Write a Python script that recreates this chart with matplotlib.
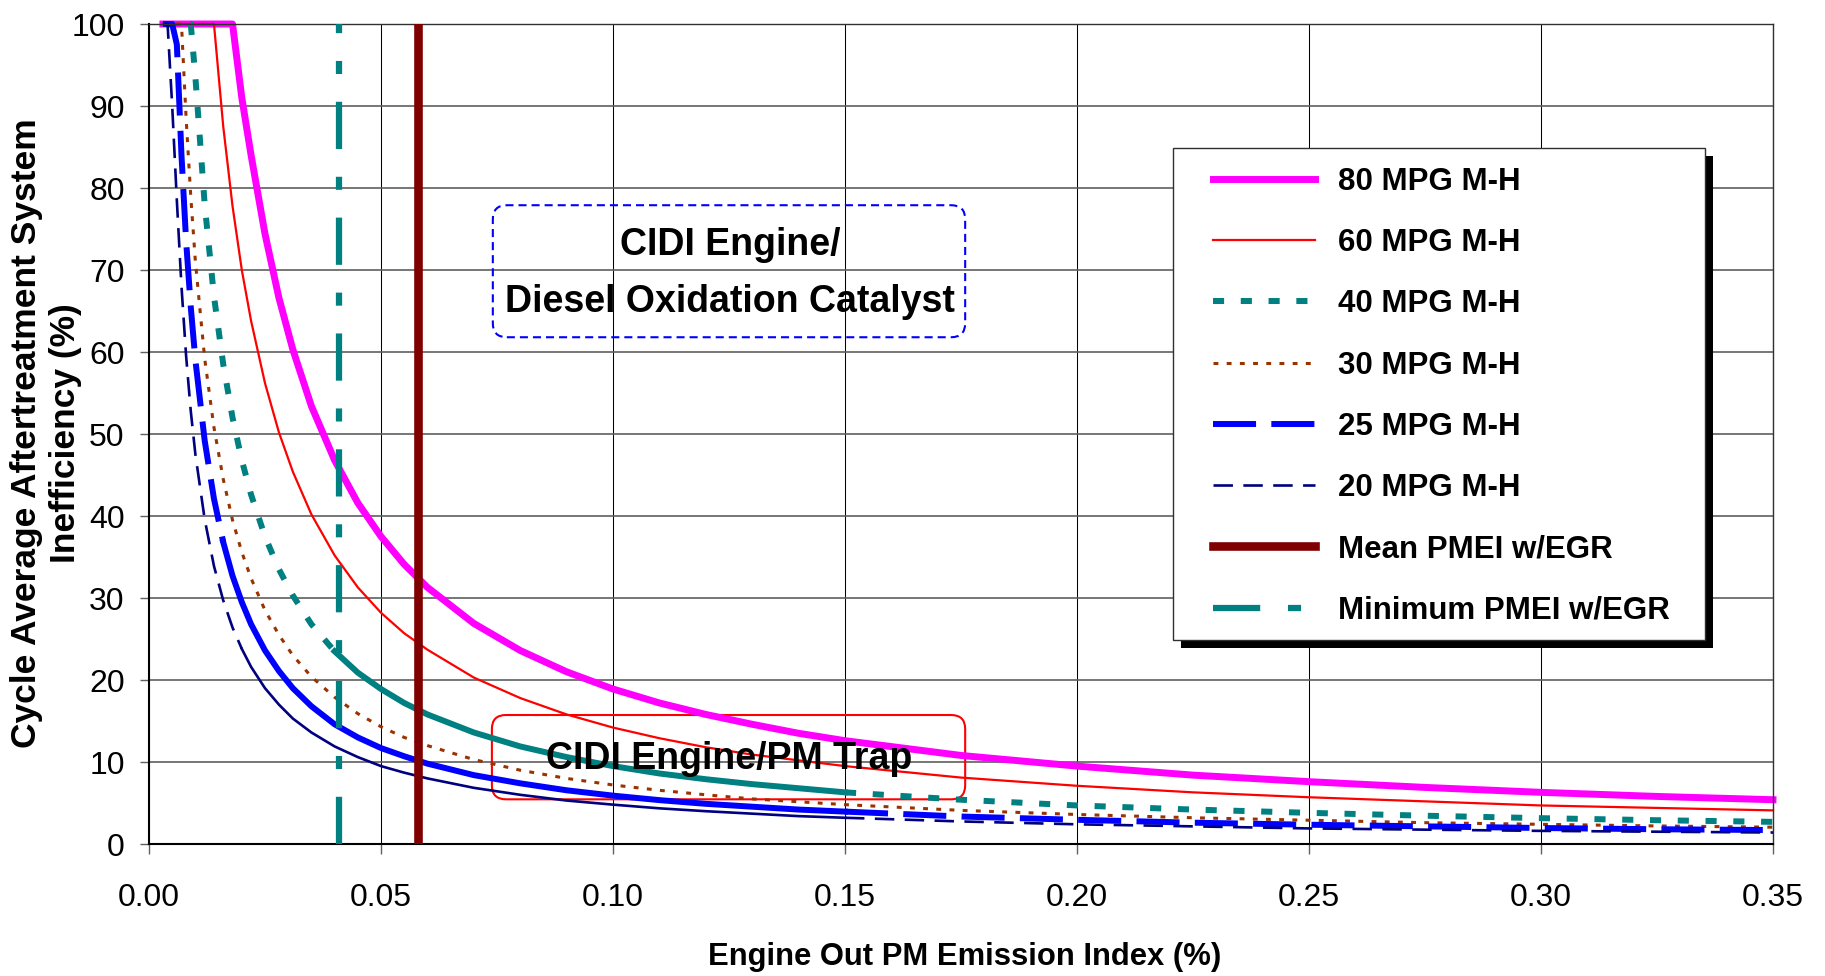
import matplotlib
matplotlib.use("Agg")
import matplotlib.pyplot as plt
from matplotlib.patches import FancyBboxPatch, Rectangle
from matplotlib.legend_handler import HandlerLine2D
from matplotlib.lines import Line2D

plt.rcParams['font.family'] = ['Liberation Sans', 'DejaVu Sans']
plt.rcParams['lines.scale_dashes'] = False

# ---------------- data ----------------
X_PMEI = [0.003, 0.004, 0.005, 0.006, 0.007, 0.008, 0.009, 0.010, 0.012, 0.014,
          0.016, 0.018, 0.020, 0.022, 0.025, 0.028, 0.031, 0.035, 0.040, 0.045,
          0.050, 0.055, 0.060, 0.070, 0.080, 0.090, 0.100, 0.110, 0.120, 0.130,
          0.140, 0.150, 0.175, 0.200, 0.225, 0.250, 0.275, 0.300, 0.325, 0.350]

MPG80 = [100, 100, 100, 100, 100, 100, 100, 100, 100, 100,
         100, 100, 91.0, 84.0, 74.4, 66.6, 60.3, 53.4, 46.8, 41.6,
         37.5, 34.1, 31.3, 26.9, 23.6, 21.0, 18.9, 17.2, 15.8, 14.6,
         13.5, 12.6, 10.8, 9.5, 8.4, 7.6, 6.9, 6.3, 5.8, 5.4]

MPG60 = [100, 100, 100, 100, 100, 100, 100, 100, 100, 100,
         87.5, 77.8, 70.0, 63.8, 56.2, 50.2, 45.4, 40.2, 35.2, 31.3,
         28.2, 25.7, 23.7, 20.3, 17.8, 15.8, 14.2, 12.9, 11.8, 10.9,
         10.2, 9.5, 8.1, 7.1, 6.3, 5.7, 5.2, 4.7, 4.4, 4.1]

MPG40 = [100, 100, 100, 100, 100, 100, 100, 93.5, 78.0, 66.8,
         58.5, 52.0, 46.8, 42.6, 37.5, 33.5, 30.3, 26.8, 23.5, 20.9,
         18.9, 17.2, 15.8, 13.6, 11.9, 10.6, 9.5, 8.6, 7.9, 7.3,
         6.8, 6.3, 5.4, 4.7, 4.2, 3.8, 3.45, 3.15, 2.9, 2.7]

MPG30 = [100, 100, 100, 100, 100, 88.5, 79.0, 71.0, 59.2, 50.8,
         44.5, 39.5, 35.6, 32.4, 28.5, 25.5, 23.0, 20.4, 17.9, 15.9,
         14.3, 13.0, 12.0, 10.3, 9.0, 8.0, 7.2, 6.55, 6.0, 5.5,
         5.15, 4.8, 4.1, 3.6, 3.2, 2.9, 2.6, 2.4, 2.2, 2.05]

MPG25 = [100, 100, 100, 97.5, 84.0, 73.5, 65.5, 59.0, 49.2, 42.1,
         36.8, 32.7, 29.5, 26.8, 23.6, 21.1, 19.0, 16.8, 14.6, 13.0,
         11.7, 10.7, 9.8, 8.4, 7.4, 6.55, 5.9, 5.35, 4.9, 4.55,
         4.2, 3.95, 3.35, 2.95, 2.6, 2.35, 2.15, 1.95, 1.8, 1.7]

MPG20 = [100, 100, 90.0, 78.5, 68.0, 59.5, 52.8, 47.5, 39.6, 33.9,
         29.7, 26.4, 23.8, 21.6, 19.0, 17.0, 15.3, 13.6, 11.9, 10.6,
         9.5, 8.7, 8.0, 6.85, 6.0, 5.3, 4.8, 4.35, 4.0, 3.7,
         3.4, 3.2, 2.75, 2.4, 2.15, 1.9, 1.75, 1.6, 1.5, 1.4]

SERIES_LABELS = ["80 MPG M-H", "60 MPG M-H", "40 MPG M-H",
                 "30 MPG M-H", "25 MPG M-H", "20 MPG M-H"]
SERIES_VALUES = [MPG80, MPG60, MPG40, MPG30, MPG25, MPG20]

MEAN_PMEI = [0.058]
MIN_PMEI = [0.041]
REF_LABELS = ["Mean PMEI w/EGR", "Minimum PMEI w/EGR"]

X_TICKS = [0.00, 0.05, 0.10, 0.15, 0.20, 0.25, 0.30, 0.35]
Y_TICKS = [0, 10, 20, 30, 40, 50, 60, 70, 80, 90, 100]

# ---------------- styles ----------------
# (color, linewidth, dash pattern in points or None, x-range drawn dense/solid)
STYLES = [
    ("#FF00FF", 5.0, None, None),
    ("#FF0000", 1.6, None, None),
    ("#008080", 4.3, (8, 12), (0.040, 0.150)),
    ("#993300", 2.2, (3.5, 6.0), None),
    ("#0000FF", 4.3, (31, 11), (0.016, 0.150)),
    ("#000080", 1.9, (14, 7.5), (0.020, 0.150)),
]

W, H = 1825, 976
fig = plt.figure(figsize=(W / 100, H / 100), dpi=100)
ax = fig.add_axes([149 / W, 1 - 844 / H, 1624 / W, 820 / H])
ax.set_xlim(0, 0.35)
ax.set_ylim(0, 100)

handles = []
for vals, label, (col, lw, dash, solid) in zip(SERIES_VALUES, SERIES_LABELS, STYLES):
    kw = dict(color=col, lw=lw, clip_on=False, zorder=2, solid_joinstyle='round')
    if dash is None:
        h, = ax.plot(X_PMEI, vals, label=label, **kw)
    else:
        if solid is None:
            h, = ax.plot(X_PMEI, vals, label=label, dashes=dash, **kw)
        else:
            i0 = X_PMEI.index(solid[0])
            i1 = X_PMEI.index(solid[1])
            h, = ax.plot(X_PMEI[:i0 + 1], vals[:i0 + 1], label=label, dashes=dash, **kw)
            ax.plot(X_PMEI[i0:i1 + 1], vals[i0:i1 + 1], **kw)
            ax.plot(X_PMEI[i1:], vals[i1:], dashes=dash, **kw)
    handles.append(h)

hm = ax.axvline(MEAN_PMEI[0], color="#800000", lw=6.2, zorder=3, label=REF_LABELS[0])
hn = ax.axvline(MIN_PMEI[0], color="#008080", lw=4.5, zorder=3,
                dashes=(34, 20, 9.4, 20), label=REF_LABELS[1])
handles += [hm, hn]

# ---------------- axes styling ----------------
ax.set_xticks(X_TICKS)
ax.set_xticklabels([f"{v:.2f}" for v in X_TICKS])
ax.set_yticks(Y_TICKS)
ax.tick_params(axis='x', direction='out', length=7.5, width=1, color='#606060',
               pad=20.5, labelsize=23)
ax.tick_params(axis='y', direction='out', length=6.5, width=1, color='#606060',
               pad=11, labelsize=23)
ax.grid(axis='y', color='#5f5f5f', lw=1.2)
ax.grid(axis='x', color='black', lw=0.75)
ax.set_axisbelow(True)
for s in ['left', 'bottom']:
    ax.spines[s].set_color('black')
    ax.spines[s].set_linewidth(1.5)
for s in ['top', 'right']:
    ax.spines[s].set_color('#303030')
    ax.spines[s].set_linewidth(1.0)

fig.text(964.5 / W, 1 - 965 / H, "Engine Out PM Emission Index (%)",
         ha='center', va='baseline', fontsize=22.3, fontweight='bold')
fig.text(46 / W, 1 - 433 / H, "Cycle Average Aftertreatment System\nInefficiency (%)",
         rotation=90, ha='center', va='center', multialignment='center',
         fontsize=25.5, fontweight='bold', linespacing=1.25)

# ---------------- annotation boxes ----------------
PX_X = 1624 / 0.35     # pixels per x unit
PX_Y = 820 / 100       # pixels per y unit
aspect = PX_X / PX_Y
r = 14 / PX_X

box1 = FancyBboxPatch((0.0741, 61.8), 0.1759 - 0.0741, 77.9 - 61.8,
                      boxstyle=f"round,pad=0,rounding_size={r}",
                      mutation_aspect=aspect, facecolor='none',
                      edgecolor='#0000FF', lw=1.5, linestyle=(0, (5.8, 3.6)),
                      zorder=1.5)
ax.add_patch(box1)
ax.text(0.1252, 71.8, "CIDI Engine/", ha='center', va='baseline',
        fontsize=27, fontweight='bold', zorder=6)
ax.text(0.1252, 64.9, "Diesel Oxidation Catalyst", ha='center', va='baseline',
        fontsize=27, fontweight='bold', zorder=6)

box2 = FancyBboxPatch((0.0739, 5.45), 0.1759 - 0.0739, 15.73 - 5.45,
                      boxstyle=f"round,pad=0,rounding_size={r}",
                      mutation_aspect=aspect, facecolor='none',
                      edgecolor='#FF0000', lw=1.5, zorder=1.5)
ax.add_patch(box2)
ax.text(0.1250, 9.15, "CIDI Engine/PM Trap", ha='center', va='baseline',
        fontsize=27, fontweight='bold', zorder=6)

# ---------------- legend ----------------
leg_l, leg_t, leg_r, leg_b = 1173, 148, 1705, 640
shadow = Rectangle(((leg_l + 8) / W, 1 - (leg_b + 8) / H), (leg_r - leg_l) / W,
                   (leg_b - leg_t) / H, transform=fig.transFigure,
                   facecolor='black', edgecolor='none', zorder=4.7, clip_on=False)
frame = Rectangle((leg_l / W, 1 - leg_b / H), (leg_r - leg_l) / W,
                  (leg_b - leg_t) / H, transform=fig.transFigure,
                  facecolor='white', edgecolor='#303030', lw=1.0, zorder=4.8,
                  clip_on=False)
ax.add_artist(shadow)
ax.add_artist(frame)

leg = ax.legend(handles, SERIES_LABELS + REF_LABELS, loc='upper left',
                bbox_to_anchor=(leg_l / W, 1 - leg_t / H),
                bbox_transform=fig.transFigure, borderaxespad=0,
                borderpad=0.6, labelspacing=1.0, handlelength=3.94,
                handletextpad=0.74, frameon=False,
                prop={'size': 22.5, 'weight': 'bold'},
                handler_map={Line2D: HandlerLine2D(xpad=0.68)})
leg.set_zorder(5)

fig.savefig("out.png", dpi=100)
